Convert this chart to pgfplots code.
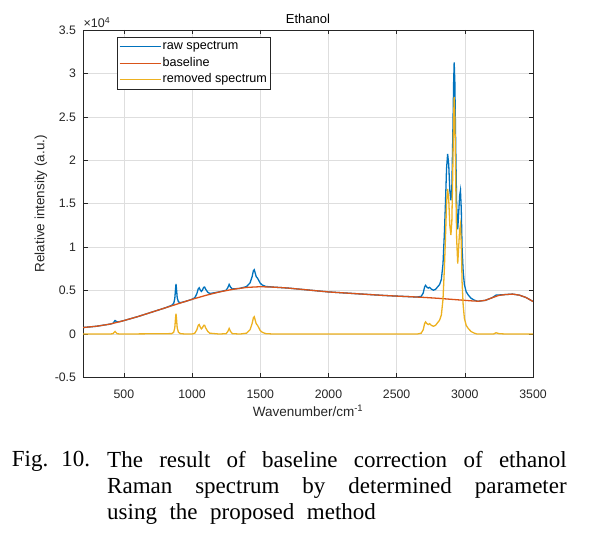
\documentclass[border=0pt]{standalone}
\usepackage{pgfplots}
\pgfplotsset{compat=1.18}
\usepackage{pgfplotstable}
\usepackage{fontspec}
\setmainfont{Liberation Sans}
\newfontfamily\capfont{Liberation Serif}
\definecolor{mblue}{rgb}{0,0.447,0.741}
\definecolor{morange}{rgb}{0.85,0.325,0.098}
\definecolor{myellow}{rgb}{0.929,0.694,0.125}
\definecolor{axgray}{rgb}{0.15,0.15,0.15}

% raw spectrum (x 10^4)
\pgfplotstableread{
x y
200 0.075
300 0.090
400 0.115
420 0.124
435 0.156
450 0.140
470 0.143
500 0.155
600 0.200
700 0.250
800 0.300
850 0.330
865 0.352
873 0.406
878 0.509
882 0.576
886 0.513
891 0.416
900 0.370
915 0.362
950 0.375
1000 0.400
1020 0.419
1035 0.466
1045 0.520
1052 0.533
1060 0.507
1068 0.491
1075 0.504
1085 0.538
1092 0.541
1100 0.515
1115 0.481
1130 0.467
1200 0.485
1250 0.505
1262 0.534
1272 0.572
1282 0.540
1295 0.519
1350 0.526
1400 0.547
1425 0.589
1440 0.660
1450 0.731
1456 0.741
1463 0.702
1470 0.662
1480 0.643
1490 0.614
1500 0.585
1515 0.564
1540 0.548
1600 0.540
1700 0.530
1800 0.515
1900 0.500
2000 0.485
2100 0.475
2200 0.465
2300 0.455
2400 0.445
2500 0.437
2600 0.430
2650 0.426
2680 0.434
2695 0.472
2705 0.542
2712 0.561
2722 0.540
2732 0.529
2742 0.538
2755 0.517
2770 0.505
2785 0.514
2800 0.542
2815 0.570
2828 0.629
2840 0.808
2850 1.156
2858 1.505
2866 1.904
2874 2.073
2882 1.952
2890 1.651
2898 1.540
2905 1.699
2912 2.299
2918 2.898
2922 3.127
2927 2.897
2933 2.196
2940 1.495
2948 1.204
2955 1.393
2962 1.593
2968 1.652
2974 1.441
2980 0.990
2988 0.719
2997 0.568
3010 0.487
3025 0.450
3045 0.413
3070 0.390
3090 0.379
3100 0.378
3150 0.388
3200 0.418
3230 0.449
3250 0.450
3300 0.455
3350 0.460
3400 0.448
3450 0.420
3500 0.375
}\rawdata

% baseline (x 10^4)
\pgfplotstableread{
x y
200 0.075
300 0.090
400 0.115
450 0.135
500 0.155
600 0.200
700 0.250
800 0.300
900 0.350
1000 0.400
1100 0.445
1200 0.485
1300 0.515
1400 0.537
1500 0.545
1600 0.540
1700 0.530
1800 0.515
1900 0.500
2000 0.485
2100 0.475
2200 0.465
2300 0.455
2400 0.445
2500 0.437
2600 0.430
2700 0.422
2800 0.412
2900 0.400
3000 0.388
3050 0.382
3100 0.378
3150 0.388
3200 0.418
3250 0.445
3300 0.455
3350 0.460
3400 0.448
3450 0.420
3500 0.375
}\basedata

% removed spectrum (x 10^4)
\pgfplotstableread{
x y
200 0
400 0
420 0.005
435 0.03
450 0.005
470 0
850 0.005
865 0.02
873 0.07
878 0.17
882 0.235
886 0.17
891 0.07
900 0.02
915 0.005
950 0
1000 0
1020 0.01
1035 0.05
1045 0.10
1052 0.11
1060 0.08
1068 0.06
1075 0.07
1085 0.10
1092 0.10
1100 0.07
1115 0.03
1130 0.01
1200 0
1250 0.005
1262 0.03
1272 0.065
1282 0.03
1295 0.005
1350 0
1400 0.01
1425 0.05
1440 0.12
1450 0.19
1456 0.20
1463 0.16
1470 0.12
1480 0.10
1490 0.07
1500 0.04
1515 0.02
1540 0.005
1600 0
2650 0
2680 0.01
2695 0.05
2705 0.12
2712 0.14
2722 0.12
2732 0.11
2742 0.12
2755 0.10
2770 0.09
2785 0.10
2800 0.13
2815 0.16
2828 0.22
2840 0.40
2850 0.75
2858 1.10
2866 1.50
2874 1.67
2882 1.55
2890 1.25
2898 1.14
2905 1.30
2912 1.90
2918 2.50
2922 2.73
2927 2.50
2933 1.80
2940 1.10
2948 0.81
2955 1.00
2962 1.20
2968 1.26
2974 1.05
2980 0.60
2988 0.33
2997 0.18
3010 0.10
3025 0.065
3045 0.03
3070 0.01
3090 0
3210 0
3230 0.015
3250 0.005
3300 0
3500 0
}\remdata

\begin{document}
\begin{tikzpicture}
\useasboundingbox (-83pt,-162.5pt) rectangle (506pt,377.5pt);
\begin{axis}[
  at={(0pt,0pt)}, anchor=south west,
  scale only axis, width=450pt, height=347.5pt,
  xmin=200, xmax=3500, ymin=-0.5, ymax=3.5,
  xtick={500,1000,1500,2000,2500,3000,3500},
  ytick={-0.5,0,0.5,1,1.5,2,2.5,3,3.5},
  scaled x ticks=false, scaled y ticks=false,
  /pgf/number format/assume math mode=true,
  /pgf/number format/1000 sep={},
  tick align=inside,
  major tick length=4.5pt,
  tick style={axgray, line width=0.5pt},
  axis line style={axgray, line width=0.6pt},
  grid=major,
  major grid style={black!13, line width=0.5pt},
  ticklabel style={font=\fontsize{12.3}{14}\selectfont, text=axgray},
  xticklabel style={yshift=-8.5pt},
  yticklabel style={xshift=-3.5pt},
  legend cell align=left,
  legend image code/.code={\draw[#1, line width=0.9pt] (0pt,0pt) -- (41pt,0pt);},
  legend style={at={(axis description cs:0.0756,0.98)}, anchor=north west,
    draw=axgray, line width=0.5pt, fill=white,
    font=\fontsize{12.6}{14}\selectfont,
    inner xsep=2pt, inner ysep=1.5pt, row sep=0pt,
    nodes={inner xsep=1.5pt, inner ysep=1.75pt, text height=9.5pt, text depth=3.5pt}},
]
\addplot[mblue, line width=1.3pt] table[x=x,y=y] {\rawdata};
\addlegendentry{raw spectrum}
\addplot[morange, line width=1.3pt] table[x=x,y=y] {\basedata};
\addlegendentry{baseline}
\addplot[myellow, line width=1.3pt] table[x=x,y=y] {\remdata};
\addlegendentry{removed spectrum}
\end{axis}
% title, scale factor, axis labels
\node[anchor=base, font=\fontsize{13}{15}\selectfont, text=black, inner sep=0pt] at (225pt,353.5pt) {Ethanol};
\node[anchor=base west, font=\fontsize{12.5}{14}\selectfont, text=axgray, inner sep=0pt] at (0.5pt,349.5pt) {×10\textsuperscript{4}};
\node[rotate=90, anchor=center, font=\fontsize{13.5}{15}\selectfont, text=axgray, inner sep=0pt] at (-42pt,173.75pt) {Relative intensity (a.u.)};
\node[anchor=base, font=\fontsize{13.5}{15}\selectfont, text=axgray, inner sep=0pt] at (225pt,-39.5pt) {Wavenumber/cm\textsuperscript{-1}};
% caption
\node[anchor=base west, inner sep=0pt, font=\capfont\fontsize{23}{26}\selectfont] at (-71.3pt,-89.5pt)
  {Fig.\hskip 13pt 10.};
\node[anchor=north west, inner sep=0pt, text width=459.5pt, align=justify,
  font=\capfont\fontsize{23}{26}\selectfont] at (24pt,-73.3pt)
  {\spaceskip=12.5pt plus 30pt minus 1pt\noindent
   The result of baseline correction of ethanol\linebreak
   Raman spectrum by determined parameter\linebreak
   using the proposed method};
\end{tikzpicture}
\end{document}
